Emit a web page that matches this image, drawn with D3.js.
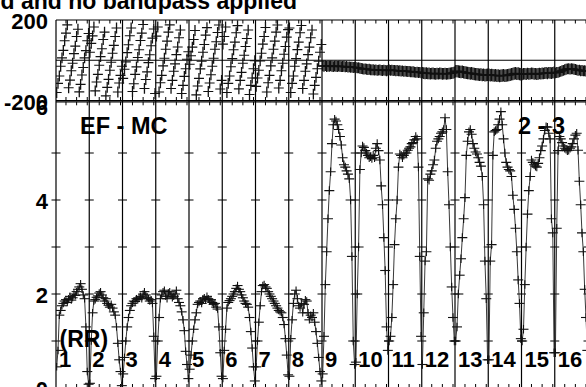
<!DOCTYPE html>
<html><head><meta charset="utf-8">
<script src="https://cdn.jsdelivr.net/npm/d3@7"></script>
<style>
body{margin:0;background:#fff}
svg{display:block}
text{font-family:"Liberation Sans",Arial,Helvetica,sans-serif;font-weight:bold;fill:#000}
</style>
</head><body>
<svg id="c" width="586" height="387"></svg>
<script>
// ---------------- DATA ----------------
const ifLabels = ["1","2","3","4","5","6","7","8","9","10","11","12","13","14","15","16"];
const sampleTimes = [0,1,2,3,4,5,6,7,8,9,10,11,12,13,14,15,16,17,18,19,20,21,22,23,24];
const timeTicks = [7,15,23];
const ampTicks = [1,2,3,4,5];
const ampLabels = [0,2,4,6];
const phaseLabels = [-200,200];

const amplitudes = [
 [0.45,0.8,1.55,1.65,1.75,1.8,1.85,1.88,1.82,1.9,1.95,1.87,1.92,2.0,1.97,2.05,2.1,2.15,2.22,2.1,1.98,1.9,1.3,0.35,0.08],
 [0.1,1.0,1.6,1.85,1.88,1.93,1.96,2.02,2.05,1.98,1.92,1.85,1.9,1.8,1.76,1.72,1.78,1.7,1.62,1.55,1.3,0.95,0.6,0.35,0.05],
 [0.3,0.65,1.0,1.3,1.5,1.65,1.75,1.8,1.85,1.84,1.9,1.88,1.92,1.95,1.9,2.0,2.05,1.98,1.93,1.9,1.85,1.88,1.8,1.1,0.2],
 [0.25,1.0,1.5,1.9,1.98,2.05,2.08,1.95,1.9,2.02,2.05,1.98,1.92,1.95,2.0,2.08,1.9,1.82,1.75,1.62,1.45,1.22,0.78,0.5,0.2],
 [0.4,0.7,1.0,1.25,1.45,1.6,1.78,1.82,1.85,1.8,1.9,1.92,1.88,1.95,1.9,1.85,1.88,1.82,1.78,1.8,1.72,1.68,1.3,0.75,0.25],
 [0.2,0.8,1.25,1.7,1.82,1.86,1.9,1.95,2.0,2.05,2.12,2.18,2.1,2.05,1.98,1.92,1.85,1.8,1.78,1.72,1.5,1.2,0.85,0.45,0.15],
 [0.45,1.0,1.4,1.75,2.05,2.18,2.2,2.15,2.12,2.05,2.0,1.95,1.9,1.85,1.8,1.75,1.7,1.65,1.62,1.6,1.5,1.35,1.05,0.7,0.28],
 [0.25,1.05,1.45,1.8,2.0,2.08,1.9,1.75,1.7,1.8,1.6,1.78,1.88,1.85,1.6,1.45,1.55,1.5,1.6,1.4,1.2,0.95,0.65,0.35,0.15],
 [0.3,1.1,2.2,2.9,3.6,4.2,4.6,5.2,5.6,5.72,5.68,5.6,5.5,5.35,5.17,4.9,4.75,4.7,4.62,4.55,4.45,4.0,2.8,1.0,0.5],
 [0.55,2.0,3.0,4.65,5.0,5.15,5.12,5.05,5.0,4.95,4.9,4.92,4.88,4.95,4.9,5.1,5.2,5.05,4.85,4.3,3.9,3.2,2.5,1.3,0.8],
 [1.0,1.1,1.5,2.2,3.05,3.6,4.0,4.7,4.98,4.95,4.9,4.95,5.0,5.0,5.06,5.1,5.13,5.2,5.22,5.28,5.35,5.3,4.7,2.8,1.1],
 [0.5,1.6,2.7,2.9,4.45,4.42,4.55,4.62,4.75,4.85,5.1,5.25,5.3,5.35,5.42,5.45,5.5,5.75,5.5,4.6,3.9,3.0,2.15,1.5,1.0],
 [1.0,1.3,2.0,2.4,2.75,3.2,3.6,4.05,4.95,5.25,5.45,5.5,5.4,5.2,5.1,5.02,4.98,4.9,4.8,4.72,4.5,3.9,2.7,1.9,0.6],
 [0.6,2.7,3.05,4.95,5.45,5.48,5.5,5.6,5.72,5.88,5.6,5.3,5.0,4.8,4.7,4.65,4.62,4.5,4.1,3.8,3.4,2.9,2.3,1.8,1.05],
 [1.0,1.25,2.2,3.0,3.7,4.2,4.5,4.85,4.8,4.75,4.72,4.7,4.78,4.9,5.05,5.15,5.3,5.48,5.56,5.55,5.42,5.3,3.6,3.3,0.75],
 [0.75,3.4,5.05,5.35,5.3,5.22,5.15,5.1,5.08,5.05,5.06,5.1,5.13,5.2,5.3,5.38,5.42,5.06,4.4,3.9,3.3,2.9,2.1,1.5,0.8]
];

const phases = [
 [-160,-115,-78,-30,12,49,97,135,176,-137,-99,-52,-15,33,70,118,154,-157,-120,-73,-36,12,48,97,133],
 [40,84,121,165,-152,-108,-70,-25,18,57,103,140,-177,-135,-95,-50,-10,35,74,118,160,-158,-113,-75,-30],
 [-90,-45,-8,38,77,122,160,-155,-117,-70,-33,14,52,98,135,178,-140,-96,-58,-12,27,72,110,155,-165],
 [120,165,-158,-112,-75,-28,10,55,95,140,176,-140,-100,-55,-18,28,66,112,150,-165,-125,-80,-42,5,42],
 [-20,22,65,103,148,-172,-128,-90,-43,-5,40,78,125,162,-155,-113,-72,-30,10,55,92,138,175,-143,-100],
 [80,118,165,-160,-115,-78,-32,8,52,90,137,172,-142,-100,-60,-15,25,68,108,150,-170,-125,-88,-42,-2],
 [-130,-88,-50,-3,35,80,118,163,-158,-112,-75,-28,12,55,95,140,175,-138,-100,-52,-15,30,68,115,152],
 [160,-160,-115,-78,-30,8,53,90,137,173,-140,-100,-55,-18,28,65,112,150,-168,-125,-85,-42,-5,40,78],
 [-28,-30,-27,-31,-29,-30,-28,-30,-32,-29,-30,-31,-29,-30,-32,-31,-30,-33,-31,-34,-33,-35,-34,-36,-35],
 [-36,-38,-37,-40,-41,-42,-44,-43,-45,-46,-45,-47,-48,-47,-49,-48,-50,-49,-48,-50,-51,-49,-50,-52,-50],
 [-48,-50,-49,-51,-50,-52,-51,-53,-52,-54,-53,-55,-54,-55,-56,-55,-57,-58,-57,-59,-60,-59,-61,-60,-62],
 [-62,-64,-65,-64,-66,-65,-67,-66,-65,-67,-68,-66,-67,-65,-66,-68,-67,-66,-68,-67,-66,-65,-64,-63,-60],
 [-55,-54,-56,-57,-58,-57,-60,-61,-62,-63,-64,-66,-65,-67,-68,-70,-69,-71,-72,-71,-73,-72,-74,-73,-72],
 [-72,-74,-73,-75,-76,-75,-77,-76,-78,-77,-76,-75,-77,-76,-74,-73,-72,-70,-68,-66,-65,-67,-66,-68,-70],
 [-70,-68,-67,-69,-66,-68,-67,-65,-66,-68,-67,-69,-68,-66,-67,-65,-66,-64,-63,-65,-62,-63,-64,-62,-60],
 [-63,-61,-60,-58,-55,-52,-50,-47,-45,-43,-42,-44,-42,-43,-45,-46,-48,-50,-49,-52,-51,-53,-52,-54,-55]
];
const ampErr = [0.08,0.08,0.08,0.08,0.08,0.08,0.08,0.08,0.09,0.09,0.09,0.09,0.09,0.09,0.09,0.09];
const phaseErr = [27,27,27,27,27,27,27,27,27,27,27,29,31,31,29,27];

const titleText = "d and no bandpass applied";
const baselineText = "EF - MC";
const antennaText = "2 - 3";
const polText = "(RR)";

// ---------------- LAYOUT ----------------
const svg = d3.select("#c");
const x0 = 56, segW = 33.25;
const xEnd = x0 + segW * ifLabels.length;
const band = d3.scaleBand().domain(ifLabels).range([x0, xEnd]);
const xIn = d3.scaleLinear().domain([-0.5, 24.5]).range([0, band.bandwidth()]);
const yPh = d3.scaleLinear().domain([-200, 200]).range([100.5, 20]);
const yAm = d3.scaleLinear().domain([0, 6.1]).range([388, 101.3]);
const halfBar = 5;

const defs = svg.append("defs");
defs.append("clipPath").attr("id","clipTop").append("rect")
  .attr("x", x0).attr("y", 20).attr("width", xEnd - x0).attr("height", 80.5);
defs.append("clipPath").attr("id","clipBot").append("rect")
  .attr("x", x0).attr("y", 101.3).attr("width", xEnd - x0).attr("height", 290);

// title
svg.append("text").attr("x", 297).attr("y", 8.5).attr("text-anchor","end")
  .attr("font-size", 23).text(titleText);

// frame lines
const frame = svg.append("g").attr("stroke","#000").attr("stroke-width",1.2).attr("fill","none");
[yPh(200), yPh(0), yPh(-200), 101.8, 387.6].forEach(y => {
  frame.append("line").attr("x1", x0).attr("x2", xEnd).attr("y1", y).attr("y2", y);
});
const bounds = ifLabels.map(k => band(k)).concat([xEnd]);
bounds.forEach(xb => {
  frame.append("line").attr("x1", xb).attr("x2", xb).attr("y1", yPh(200)).attr("y2", 388);
});
// ticks on each boundary (amplitude)
const tk = svg.append("g").attr("stroke","#000").attr("stroke-width",1);
bounds.forEach(xb => {
  ampTicks.forEach(v => {
    tk.append("line").attr("x1", xb - 4.5).attr("x2", xb + 4.5).attr("y1", yAm(v)).attr("y2", yAm(v));
  });
});
// time ticks
ifLabels.forEach(k => {
  timeTicks.forEach(t => {
    const xx = band(k) + xIn(t);
    tk.append("line").attr("x1", xx).attr("x2", xx).attr("y1", yPh(200)).attr("y2", yPh(200) + 3.5);
    tk.append("line").attr("x1", xx).attr("x2", xx).attr("y1", yPh(-200)).attr("y2", yPh(-200) - 3.5);
    tk.append("line").attr("x1", xx).attr("x2", xx).attr("y1", 101.8).attr("y2", 105.3);
    tk.append("line").attr("x1", xx).attr("x2", xx).attr("y1", 387.6).attr("y2", 384);
  });
});

// y axes labels via d3 axes (plain hyphen minus, as in the reference)
const fmt = d => String(d);
const axAmp = svg.append("g").attr("transform", `translate(${x0},0)`)
  .call(d3.axisLeft(yAm).tickValues(ampLabels).tickSize(0).tickPadding(8).tickFormat(fmt));
const axPh = svg.append("g").attr("transform", `translate(${x0},0)`)
  .call(d3.axisLeft(yPh).tickValues(phaseLabels).tickSize(0).tickPadding(8).tickFormat(fmt));
[axAmp, axPh].forEach(a => {
  a.select(".domain").remove();
  a.selectAll("text").attr("font-size", 22).attr("font-family", '"Liberation Sans",Arial,sans-serif')
    .attr("font-weight","bold").attr("fill","#000").attr("dy","0.39em");
});

// ---------------- DATA MARKS ----------------
const topG = svg.append("g").attr("clip-path","url(#clipTop)");
const botG = svg.append("g").attr("clip-path","url(#clipBot)");

ifLabels.forEach((k, i) => {
  const bx = band(k);
  const px = t => bx + xIn(t);
  // amplitude connecting line
  const pts = sampleTimes.map((t, j) => [t, amplitudes[i][j]]);
  botG.append("path").datum(pts)
    .attr("fill","none").attr("stroke","#222").attr("stroke-width",0.9)
    .attr("d", d3.line().x(d => px(d[0])).y(d => yAm(d[1])));
  // amplitude crosses
  pts.forEach(d => {
    const cx = px(d[0]), cy = yAm(d[1]);
    botG.append("line").attr("x1", cx - halfBar).attr("x2", cx + halfBar).attr("y1", cy).attr("y2", cy)
      .attr("stroke","#111").attr("stroke-width",1.1);
    botG.append("line").attr("x1", cx).attr("x2", cx)
      .attr("y1", yAm(d[1] - ampErr[i])).attr("y2", yAm(d[1] + ampErr[i]))
      .attr("stroke","#111").attr("stroke-width",1.1);
  });
  // phase crosses
  sampleTimes.forEach((t, j) => {
    const p = phases[i][j];
    const cx = px(t), cy = yPh(p);
    topG.append("line").attr("x1", cx - halfBar).attr("x2", cx + halfBar).attr("y1", cy).attr("y2", cy)
      .attr("stroke","#111").attr("stroke-width",1.1);
    topG.append("line").attr("x1", cx).attr("x2", cx)
      .attr("y1", yPh(p - phaseErr[i])).attr("y2", yPh(p + phaseErr[i]))
      .attr("stroke","#111").attr("stroke-width",1.3);
  });
});

// ---------------- LABELS ----------------
svg.append("text").attr("x", 80).attr("y", 134.3).attr("font-size", 23.5).text(baselineText);
svg.append("text").attr("x", 518).attr("y", 133.5).attr("font-size", 23.5).attr("xml:space","preserve").text(antennaText);
svg.append("text").attr("x", 59.5).attr("y", 346.5).attr("font-size", 23).text(polText);
svg.append("g").selectAll("text").data(ifLabels).join("text")
  .attr("x", d => band(d) + 3).attr("y", 366.7).attr("font-size", 22).text(d => d);
</script>
</body></html>
